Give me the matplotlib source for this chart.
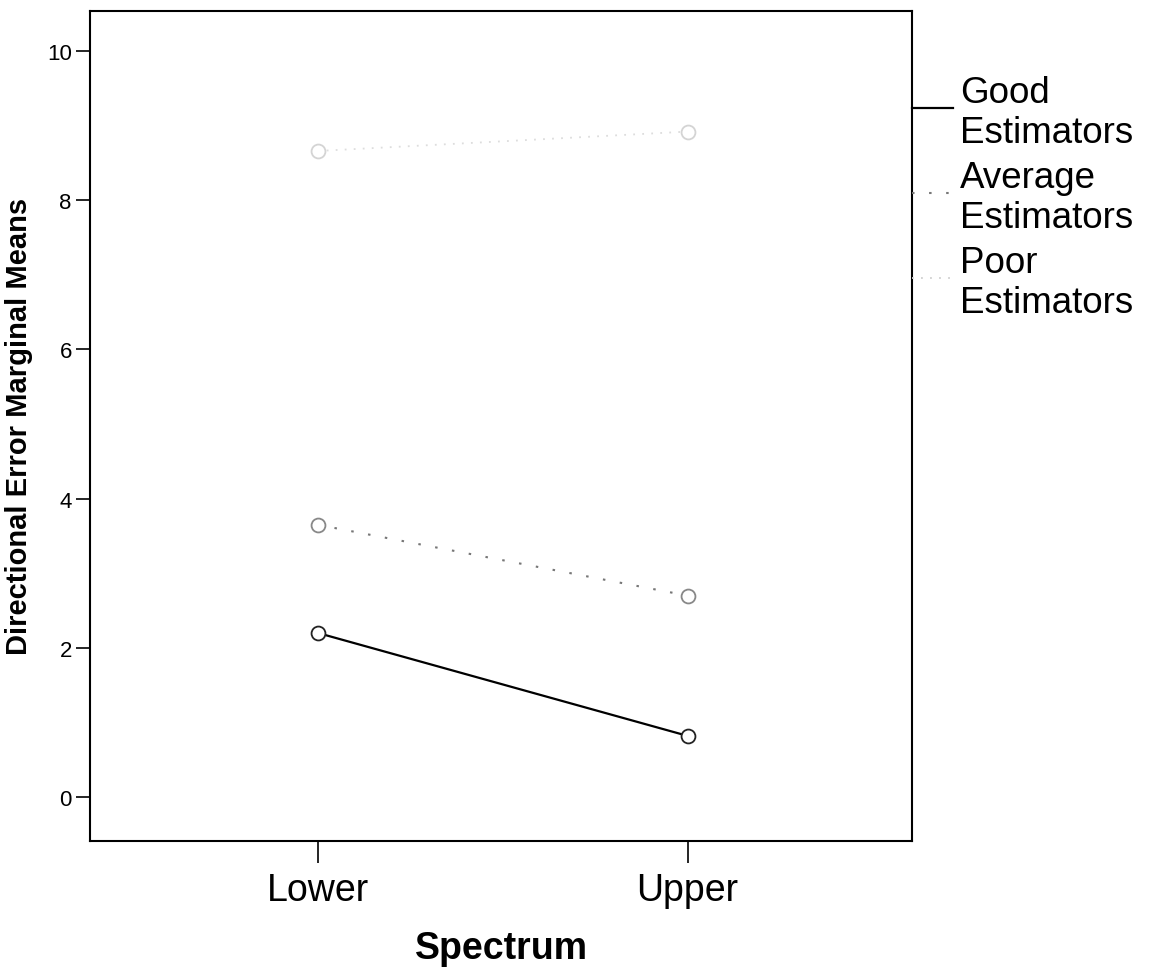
import matplotlib.pyplot as plt
from matplotlib.lines import Line2D

plt.rcParams['font.family'] = ['Liberation Sans', 'DejaVu Sans']

# Estimated marginal means
spectrum = ['Lower', 'Upper']
good = [2.20, 0.82]
average = [3.65, 2.70]
poor = [8.66, 8.92]

fig = plt.figure(figsize=(11.52, 9.78), dpi=100)
ax = fig.add_axes([0.078, 0.139, 0.714, 0.849])

x = [0, 1]
ax.plot(x, good, color='black', linestyle='-', linewidth=1.6,
        marker='o', markersize=10, markerfacecolor='white', markeredgecolor='#222222',
        markeredgewidth=1.3)
ax.plot(x, average, color='#777777', linestyle=(0, (1.2, 7)), linewidth=1.5,
        marker='o', markersize=10, markerfacecolor='white', markeredgecolor='#888888',
        markeredgewidth=1.3)
ax.plot(x, poor, color='#dddddd', linestyle=(0, (1, 4)), linewidth=1.3,
        marker='o', markersize=10, markerfacecolor='white', markeredgecolor='#d4d4d4',
        markeredgewidth=1.3)

ax.set_xlim(-0.616, 1.608)
ax.set_ylim(-0.59, 10.54)
ax.set_xticks(x)
ax.set_xticklabels(spectrum, fontsize=27)
ax.set_yticks([0, 2, 4, 6, 8, 10])
ax.set_yticklabels(['0', '2', '4', '6', '8', '10'], fontsize=16)
ax.tick_params(axis='y', direction='out', length=10, width=1.2, pad=3)
ax.tick_params(axis='x', direction='out', length=16, width=1.2, pad=6)
for s in ax.spines.values():
    s.set_linewidth(1.5)

ax.set_xlabel('Spectrum', fontsize=27, fontweight='bold', labelpad=16)
ax.set_ylabel('Directional Error Marginal Means', fontsize=21, fontweight='bold', labelpad=10)

handles = [
    Line2D([], [], color='black', linestyle='-', linewidth=1.6),
    Line2D([], [], color='#777777', linestyle=(0, (1.2, 7)), linewidth=1.5),
    Line2D([], [], color='#d0d0d0', linestyle=(0, (1, 4)), linewidth=1.3),
]
labels = ['Good\nEstimators', 'Average\nEstimators', 'Poor\nEstimators']
ax.legend(handles, labels, loc='upper left', bbox_to_anchor=(1.0, 0.923),
          frameon=False, fontsize=26.5, handlelength=1.1, handletextpad=0.2,
          handleheight=1.55, borderaxespad=0, borderpad=0, labelspacing=0.26)

fig.savefig('out.png', dpi=100)
